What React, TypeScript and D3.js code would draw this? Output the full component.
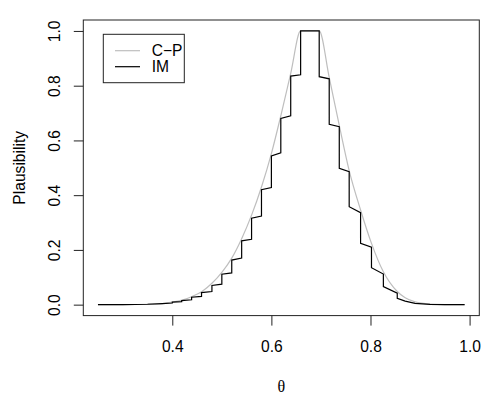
import React, { useRef, useEffect } from "react";
import * as d3 from "d3";

// C-P plausibility (gray, smooth)
const cpTheta = [0.25, 0.3, 0.35, 0.38, 0.4, 0.42, 0.44, 0.46, 0.48, 0.5, 0.52, 0.54, 0.56, 0.58, 0.6, 0.619, 0.639, 0.659, 0.6965, 0.7167, 0.737, 0.757, 0.78, 0.802, 0.826, 0.854, 0.87, 0.89, 0.92, 0.95, 0.99];
const cpPl = [0, 0.0003, 0.0015, 0.004, 0.009, 0.017, 0.03, 0.048, 0.078, 0.118, 0.17, 0.241, 0.327, 0.43, 0.552, 0.69, 0.845, 1, 1, 0.83, 0.655, 0.49, 0.346, 0.224, 0.12, 0.048, 0.025, 0.01, 0.002, 0.0003, 0];

// IM plausibility (black, staircase)
const imTheta = [0.25, 0.3, 0.35, 0.38, 0.4, 0.4, 0.419, 0.419, 0.439, 0.439, 0.459, 0.459, 0.48, 0.48, 0.5, 0.5, 0.52, 0.52, 0.54, 0.54, 0.56, 0.56, 0.58, 0.58, 0.6, 0.6, 0.619, 0.619, 0.639, 0.639, 0.659, 0.659, 0.6965, 0.6965, 0.7167, 0.7167, 0.737, 0.737, 0.757, 0.757, 0.78, 0.78, 0.802, 0.802, 0.826, 0.826, 0.854, 0.854, 0.87, 0.89, 0.92, 0.95, 0.99];
const imPl = [0, 0.0003, 0.0015, 0.004, 0.006, 0.009, 0.011, 0.015, 0.018, 0.027, 0.03, 0.044, 0.048, 0.07, 0.075, 0.111, 0.116, 0.163, 0.17, 0.233, 0.239, 0.316, 0.324, 0.42, 0.428, 0.543, 0.555, 0.68, 0.69, 0.835, 0.84, 1, 1, 0.833, 0.825, 0.659, 0.65, 0.498, 0.486, 0.358, 0.336, 0.224, 0.21, 0.135, 0.112, 0.066, 0.042, 0.023, 0.013, 0.005, 0.001, 0, 0];

const xTicks = [0.4, 0.6, 0.8, 1.0];
const yTicks = [0, 0.2, 0.4, 0.6, 0.8, 1.0];
const legendLabels = ["C\u2212P", "IM"];
const legendColors = ["#bebebe", "#000000"];

const App = () => {
  const ref = useRef<SVGSVGElement>(null);
  const width = 500;
  const height = 400;
  const box = { left: 83.3, right: 479.3, top: 20, bottom: 315.6 };
  const font = "'Liberation Sans', Arial, Helvetica, sans-serif";

  useEffect(() => {
    const svg = d3.select(ref.current);
    svg.selectAll("*").remove();

    // R-style 4% axis extension
    const xScale = d3.scaleLinear().domain([0.2204, 1.0196]).range([box.left, box.right]);
    const yScale = d3.scaleLinear().domain([-0.04, 1.04]).range([box.bottom, box.top]);

    const line = d3
      .line<[number, number]>()
      .x((d) => xScale(d[0]))
      .y((d) => yScale(d[1]));

    const cp: [number, number][] = cpTheta.map((t, i) => [t, cpPl[i]]);
    const im: [number, number][] = imTheta.map((t, i) => [t, imPl[i]]);

    svg
      .append("path")
      .attr("d", line.curve(d3.curveMonotoneX)(cp) as string)
      .attr("fill", "none")
      .attr("stroke", legendColors[0])
      .attr("stroke-width", 1.2);

    svg
      .append("path")
      .attr("d", line.curve(d3.curveLinear)(im) as string)
      .attr("fill", "none")
      .attr("stroke", legendColors[1])
      .attr("stroke-width", 1.2);

    // box
    svg
      .append("rect")
      .attr("x", box.left)
      .attr("y", box.top)
      .attr("width", box.right - box.left)
      .attr("height", box.bottom - box.top)
      .attr("fill", "none")
      .attr("stroke", "#222")
      .attr("stroke-width", 1);

    const xAxis = d3.axisBottom(xScale).tickValues(xTicks).tickSize(10).tickFormat(d3.format(".1f"));
    const gx = svg.append("g").attr("transform", `translate(0,${box.bottom})`).call(xAxis);
    gx.select(".domain").remove();
    gx.selectAll("line").attr("stroke", "#222");
    gx.selectAll("text")
      .attr("font-family", font)
      .attr("font-size", 15.6)
      .attr("fill", "#000")
      .attr("dy", null)
      .attr("y", 36.5);

    const yAxis = d3.axisLeft(yScale).tickValues(yTicks).tickSize(9.5).tickFormat(d3.format(".1f"));
    const gy = svg.append("g").attr("transform", `translate(${box.left},0)`).call(yAxis);
    gy.select(".domain").remove();
    gy.selectAll("line").attr("stroke", "#222");
    // tick groups are already translated to each tick, so only shift + rotate
    gy.selectAll("text")
      .attr("font-family", font)
      .attr("font-size", 15.6)
      .attr("fill", "#000")
      .attr("x", null)
      .attr("y", null)
      .attr("dy", null)
      .attr("text-anchor", "middle")
      .attr("transform", `translate(${60 - box.left},0) rotate(-90)`);

    // axis titles
    svg
      .append("text")
      .attr("x", (box.left + box.right) / 2)
      .attr("y", 391.5)
      .attr("text-anchor", "middle")
      .attr("font-family", "'Liberation Serif', 'DejaVu Serif', serif")
      .attr("font-size", 16)
      .text("\u03b8");

    svg
      .append("text")
      .attr("transform", `translate(25,${(box.top + box.bottom) / 2}) rotate(-90)`)
      .attr("text-anchor", "middle")
      .attr("font-family", font)
      .attr("font-size", 15.6)
      .text("Plausibility");

    // legend
    const lg = svg.append("g");
    lg.append("rect")
      .attr("x", 103.3)
      .attr("y", 34.3)
      .attr("width", 81)
      .attr("height", 48.4)
      .attr("fill", "white")
      .attr("stroke", "#222");
    legendLabels.forEach((lab, i) => {
      const y = 50.7 + i * 16;
      lg.append("line")
        .attr("x1", 115)
        .attr("x2", 140)
        .attr("y1", y)
        .attr("y2", y)
        .attr("stroke", legendColors[i])
        .attr("stroke-width", 1.2);
      lg.append("text")
        .attr("x", 151.7)
        .attr("y", y + 5.5)
        .attr("font-family", font)
        .attr("font-size", 15.6)
        .text(lab);
    });
  });

  return (
    <svg
      ref={ref}
      width={width}
      height={height}
      style={{ position: "absolute", left: 0, top: 0, background: "white" }}
    ></svg>
  );
};

export default App;
